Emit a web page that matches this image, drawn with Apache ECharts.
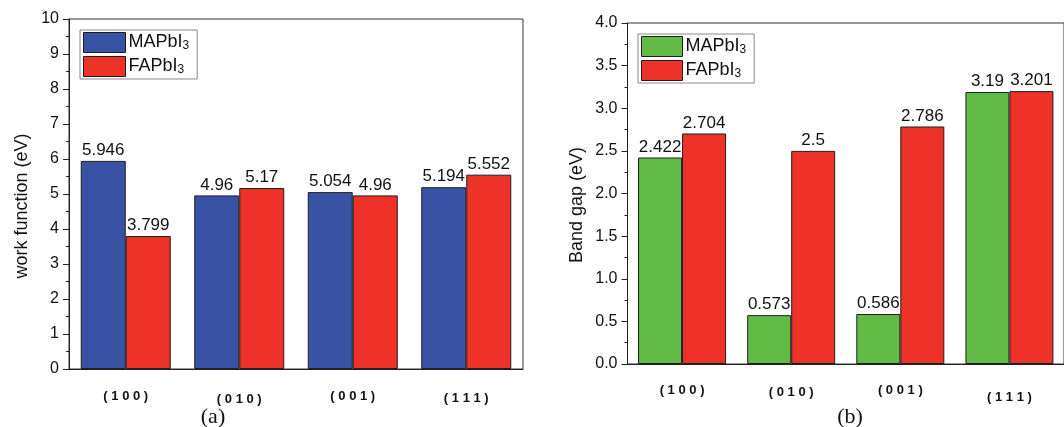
<!DOCTYPE html>
<html>
<head>
<meta charset="utf-8">
<script src="https://cdn.jsdelivr.net/npm/echarts@6/dist/echarts.min.js"></script>
<style>
html,body{margin:0;padding:0;background:#fff;}
#chart{width:1064px;height:427px;}
</style>
</head>
<body>
<div id="chart"></div>
<script>
var categories = ['( 1 0 0 )', '( 0 1 0 )', '( 0 0 1 )', '( 1 1 1 )'];
var seriesNames = ['MAPbI3', 'FAPbI3'];
var workMAPbI3 = [5.946, 4.96, 5.054, 5.194];
var workFAPbI3 = [3.799, 5.17, 4.96, 5.552];
var gapMAPbI3 = [2.422, 0.573, 0.586, 3.19];
var gapFAPbI3 = [2.704, 2.5, 2.786, 3.201];
var workTicks = [0, 1, 2, 3, 4, 5, 6, 7, 8, 9, 10];
var gapTicks = ['0.0', '0.5', '1.0', '1.5', '2.0', '2.5', '3.0', '3.5', '4.0'];
var axisTitles = ['work function (eV)', 'Band gap (eV)'];
var captions = ['(a)', '(b)'];

var FONT = '"Liberation Sans", Arial, sans-serif';
var BLUE = '#3953A4', RED = '#EE3129', GREEN = '#62BB47', EDGE = '#1e1e1e';

var chart = echarts.init(document.getElementById('chart'));

function legendFmt(n) { return n.trim().replace(/3$/, '') + '{s|3}'; }

function xAxisFor(gridIndex, pads) {
  var rich = {};
  pads.forEach(function (p, i) {
    rich['c' + i] = { fontFamily: FONT, fontSize: 13, fontWeight: 'bold', color: '#111', padding: [p, 0, 0, 0] };
  });
  return {
    type: 'category', gridIndex: gridIndex, data: categories,
    axisLine: { lineStyle: { color: '#222', width: 1 } },
    axisTick: { alignWithLabel: true, length: 6, lineStyle: { color: '#222' } },
    axisLabel: {
      margin: 14,
      formatter: function (v, i) { return '{c' + i + '|' + v + '}'; },
      rich: rich
    }
  };
}

function yAxisFor(gridIndex, max, interval, decimals) {
  return {
    type: 'value', gridIndex: gridIndex, min: 0, max: max, interval: interval,
    axisLine: { show: true, lineStyle: { color: '#222', width: 1 } },
    axisTick: { show: true, length: 6, lineStyle: { color: '#222' } },
    minorTick: { show: true, splitNumber: 2, length: 3, lineStyle: { color: '#222' } },
    splitLine: { show: false },
    axisLabel: {
      fontFamily: FONT, fontSize: 16, color: '#111', margin: 10,
      formatter: function (v) { return decimals ? v.toFixed(decimals) : String(v); }
    }
  };
}

function barSeries(name, data, color, xi, width) {
  return {
    type: 'bar', name: name, data: data, xAxisIndex: xi, yAxisIndex: xi,
    barWidth: width, barGap: '0%',
    itemStyle: { color: color, borderColor: EDGE, borderWidth: 1 },
    label: {
      show: true, position: 'top', distance: 2,
      fontFamily: FONT, fontSize: 17, color: '#111',
      formatter: function (p) { return String(p.value); }
    }
  };
}

function legendFor(left, top, w, names) {
  return {
    orient: 'vertical', left: left, top: top, data: names,
    itemWidth: w, itemHeight: 20, itemGap: 3,
    padding: [2, 8, 2, 3],
    borderColor: '#888', borderWidth: 1,
    icon: 'rect',
    formatter: legendFmt,
    textStyle: {
      fontFamily: FONT, fontSize: 18, color: '#111', padding: [0, 0, 0, -2],
      rich: { s: { fontFamily: FONT, fontSize: 12, color: '#111', padding: [6, 0, 0, 0] } }
    },
    itemStyle: { borderColor: EDGE, borderWidth: 1 }
  };
}

var rightNames = [seriesNames[0] + ' ', seriesNames[1] + ' '];

function vText(txt, x, y) {
  return { type: 'text', x: x, y: y, rotation: Math.PI / 2,
    style: { text: txt, font: '18px ' + FONT, fill: '#111', align: 'center', verticalAlign: 'middle' } };
}
function caption(txt, x) {
  return { type: 'text', x: x, y: 417,
    style: { text: txt, font: '22px "Liberation Serif", "Times New Roman", serif', fill: '#111', align: 'center', verticalAlign: 'middle' } };
}

var option = {
  animation: false,
  backgroundColor: '#fff',
  legend: [legendFor(80, 30, 42, seriesNames), legendFor(638, 34, 41, rightNames)],
  grid: [
    { left: 69, top: 19, width: 454, height: 350, show: true, borderColor: '#333', borderWidth: 1, backgroundColor: 'transparent' },
    { left: 627.5, top: 23, width: 444, height: 341, show: true, borderColor: '#333', borderWidth: 1, backgroundColor: 'transparent' }
  ],
  xAxis: [ xAxisFor(0, [7, 10, 7, 9]), xAxisFor(1, [6, 8, 6, 13]) ],
  yAxis: [
    yAxisFor(0, workTicks[workTicks.length - 1], workTicks[1] - workTicks[0], 0),
    yAxisFor(1, parseFloat(gapTicks[gapTicks.length - 1]), parseFloat(gapTicks[1]), 1)
  ],
  series: [
    barSeries(seriesNames[0], workMAPbI3, BLUE, 0, 45),
    barSeries(seriesNames[1], workFAPbI3, RED, 0, 45),
    barSeries(rightNames[0], gapMAPbI3, GREEN, 1, 44),
    barSeries(rightNames[1], gapFAPbI3, RED, 1, 44)
  ],
  graphic: [
    vText(axisTitles[0], 22, 206),
    vText(axisTitles[1], 577, 205),
    caption(captions[0], 213),
    caption(captions[1], 850)
  ]
};
chart.setOption(option);
</script>
</body>
</html>
